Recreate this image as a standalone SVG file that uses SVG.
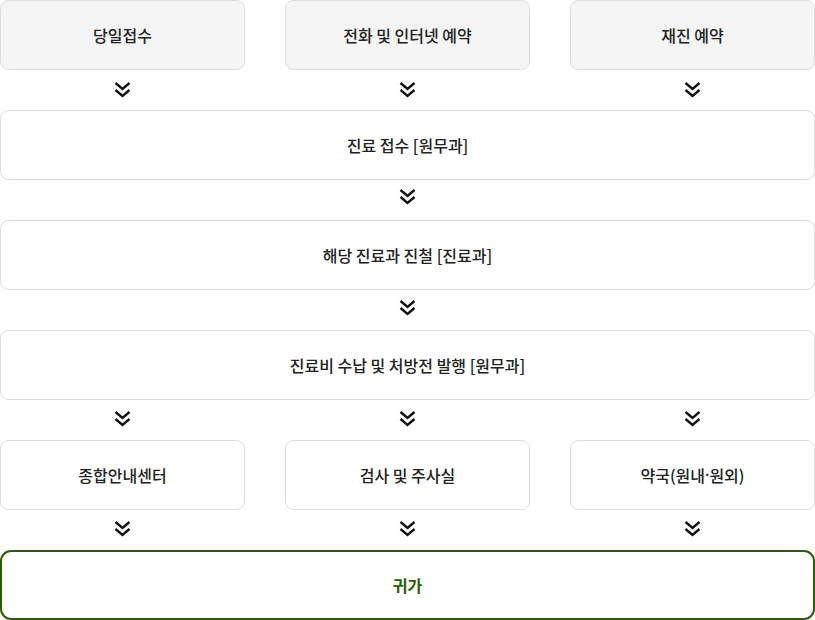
<svg xmlns="http://www.w3.org/2000/svg" width="815" height="620" viewBox="0 0 815 620">
<defs>
<style>
.box{fill:#ffffff;stroke:#dddddd;stroke-width:1}
.gray{fill:#f5f5f5}
.fin{fill:#ffffff;stroke:#2b5e08;stroke-width:2}
.t{font-family:"Noto Sans CJK KR","Noto Sans",sans-serif;font-size:16px;font-weight:500;fill:#222222;text-anchor:middle;dominant-baseline:central}
.tg{fill:#2b5e08;font-weight:700}
.dot{font-family:"Noto Sans",sans-serif}
.chev{fill:none;stroke:#111111;stroke-width:2.4;stroke-linecap:butt;stroke-linejoin:miter}
</style>
<g id="chevron"><path class="chev" d="M-7,-7 L0,-1 L7,-7 M-7,0 L0,6 L7,0"/></g>
</defs>
<g id="n1"><rect class="box gray" x="0.5" y="0.5" width="244" height="69" rx="8"/><text class="t" x="122.5" y="35">당일접수</text></g>
<g id="n2"><rect class="box gray" x="285.5" y="0.5" width="244" height="69" rx="8"/><text class="t" x="407.5" y="35">전화 및 인터넷 예약</text></g>
<g id="n3"><rect class="box gray" x="570.5" y="0.5" width="244" height="69" rx="8"/><text class="t" x="692.5" y="35">재진 예약</text></g>
<g id="n4"><rect class="box" x="0.5" y="110.5" width="814" height="69" rx="8"/><text class="t" x="407.5" y="145">진료 접수 [원무과]</text></g>
<g id="n5"><rect class="box" x="0.5" y="220.5" width="814" height="69" rx="8"/><text class="t" x="407.5" y="255">해당 진료과 진철 [진료과]</text></g>
<g id="n6"><rect class="box" x="0.5" y="330.5" width="814" height="69" rx="8"/><text class="t" x="407.5" y="365">진료비 수납 및 처방전 발행 [원무과]</text></g>
<g id="n7"><rect class="box" x="0.5" y="440.5" width="244" height="69" rx="8"/><text class="t" x="122.5" y="475">종합안내센터</text></g>
<g id="n8"><rect class="box" x="285.5" y="440.5" width="244" height="69" rx="8"/><text class="t" x="407.5" y="475">검사 및 주사실</text></g>
<g id="n9"><rect class="box" x="570.5" y="440.5" width="244" height="69" rx="8"/><text class="t" x="692.5" y="475">약국(원내<tspan class="dot">·</tspan>원외)</text></g>
<g id="n10"><rect class="fin" x="1" y="551" width="813" height="68" rx="10"/><text class="t tg" x="407.5" y="585">귀가</text></g>
<g id="connectors">
<use href="#chevron" x="122.5" y="90"/>
<use href="#chevron" x="407.5" y="90"/>
<use href="#chevron" x="692.5" y="90"/>
<use href="#chevron" x="407.5" y="197"/>
<use href="#chevron" x="407.5" y="308"/>
<use href="#chevron" x="122.5" y="419"/>
<use href="#chevron" x="407.5" y="419"/>
<use href="#chevron" x="692.5" y="419"/>
<use href="#chevron" x="122.5" y="529"/>
<use href="#chevron" x="407.5" y="529"/>
<use href="#chevron" x="692.5" y="529"/>
</g>
</svg>
